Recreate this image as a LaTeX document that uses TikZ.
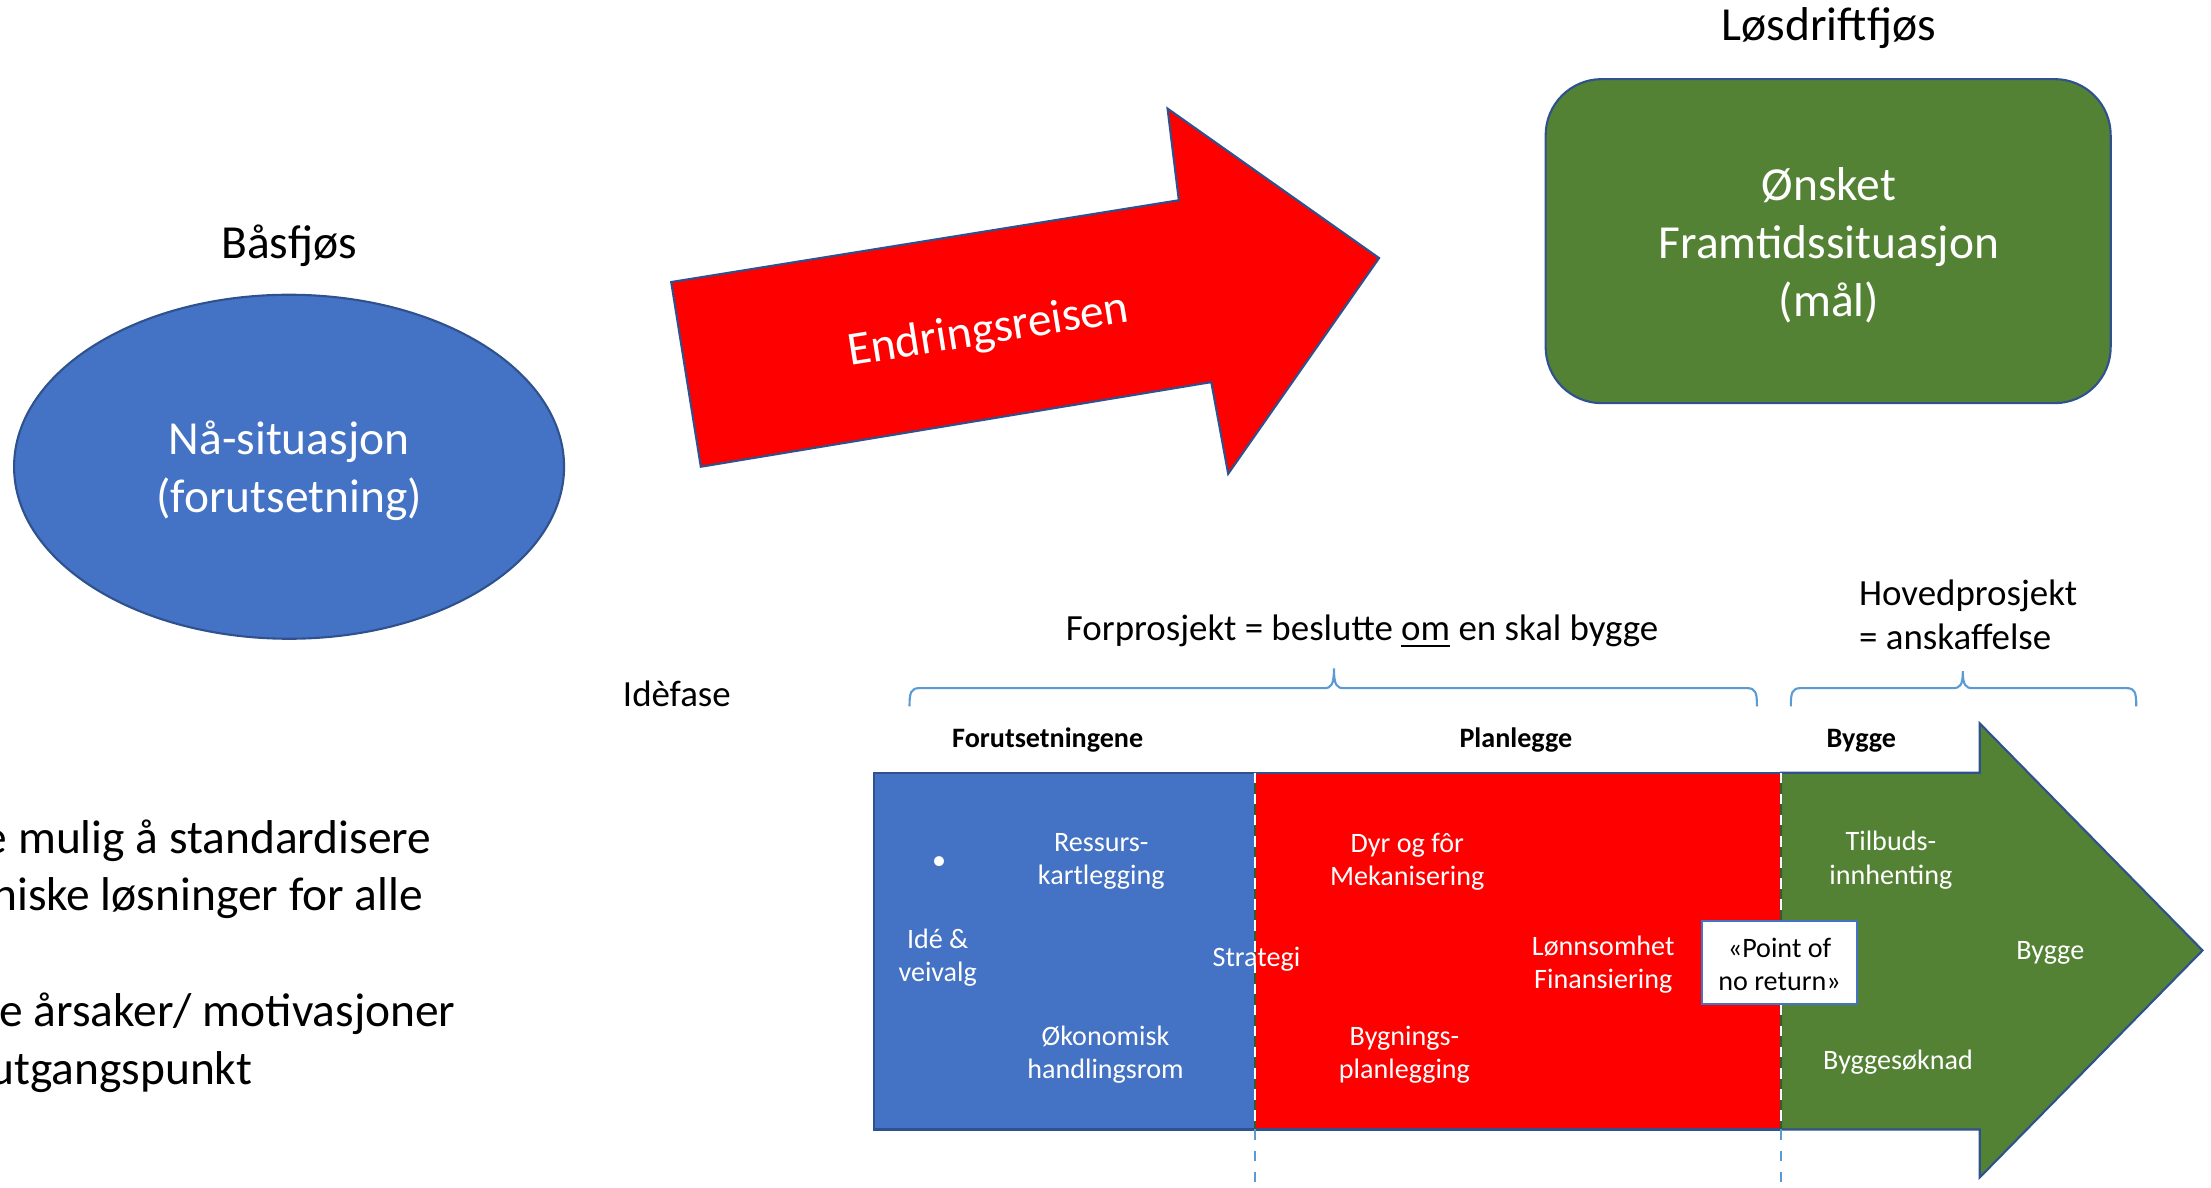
\documentclass[tikz,border=0pt]{standalone}
\usepackage{fontspec}
\setmainfont{Carlito}
\usetikzlibrary{shapes.geometric,positioning}
\definecolor{msblue}{HTML}{4472C4}
\definecolor{msedge}{HTML}{2F528F}
\definecolor{msred}{HTML}{FF0000}
\definecolor{msgreen}{HTML}{548235}
\definecolor{bracecol}{HTML}{5B9BD5}
\tikzset{
  bigtxt/.style={align=center, inner sep=0pt, font=\fontsize{13.5}{16.5}\selectfont},
  midtxt/.style={align=center, inner sep=0pt, font=\fontsize{10.5}{12.5}\selectfont},
  phasehead/.style={inner sep=0pt, font=\fontsize{8}{9.5}\selectfont\bfseries},
  intxt/.style={align=center, inner sep=0pt, text=white, font=\fontsize{8}{9.5}\selectfont},
  situation/.style={ellipse, draw=msedge, fill=msblue, text=white, align=center, font=\fontsize{13.5}{16.5}\selectfont, minimum width=55mm, minimum height=34.4mm, line width=0.6pt},
  goal/.style={rectangle, rounded corners=5.6mm, draw=msedge, fill=msgreen, text=white, align=center, font=\fontsize{13.5}{16.5}\selectfont, minimum width=56.5mm, minimum height=32.4mm, line width=0.6pt},
  pnr/.style={rectangle, draw=msblue, fill=white, align=center, inner sep=0pt, font=\fontsize{8}{9.5}\selectfont, minimum width=15.5mm, minimum height=8.3mm, line width=0.6pt},
  shapeedge/.style={draw=msedge, line width=0.6pt},
  bracket/.style={draw=bracecol, line width=0.6pt},
  divider/.style={draw=bracecol, dashed, line width=0.6pt}
}
\begin{document}
\begin{tikzpicture}[x=0.141mm, y=-0.141mm]
\useasboundingbox (0,0) rectangle (1568,842);

\node[bigtxt] (basfjos) at (205,174) {Båsfjøs};
\node[situation] (naa) at (205,331) {};
\node[bigtxt, text=white] (naatxt) at (205,334) {Nå-situasjon\\(forutsetning)};

\draw[shapeedge, fill=msred] (476,200) -- (836,142) -- (828,77) -- (978,183) -- (871,336) -- (859,271) -- (497,331) -- cycle;
\node[bigtxt, text=white, rotate=9] (reise) at (701,235) {Endringsreisen};

\node[bigtxt] (losdrift) at (1297,20) {Løsdriftfjøs};
\node[goal] (maal) at (1296.5,171) {};
\node[bigtxt, text=white] (maaltxt) at (1297,174) {Ønsket\\Framtidssituasjon\\(mål)};

\node[bigtxt, anchor=west] (txta) at (-12,596) {e mulig å standardisere};
\node[bigtxt, anchor=west] (txtb) at (-6,637) {niske løsninger for alle};
\node[bigtxt, anchor=west] (txtc) at (-1,719) {e årsaker/ motivasjoner};
\node[bigtxt, anchor=west] (txtd) at (-8,760) {utgangspunkt};

\node[midtxt] (forprosjekt) at (966,448) {Forprosjekt = beslutte \underline{om} en skal bygge};
\node[midtxt, align=left, anchor=west] (hovedprosjekt) at (1318,436) {Hovedprosjekt\\= anskaffelse};
\node[midtxt] (idefase) at (480,492) {Idèfase};

\draw[bracket] (645,501) .. controls (645,491) and (646,488) .. (652,488) -- (939,488) .. controls (944,488) and (946,486) .. (946,474) .. controls (946,486) and (948,488) .. (953,488) -- (1239,488) .. controls (1245,488) and (1246,491) .. (1246,501);
\draw[bracket] (1270,501) .. controls (1270,491) and (1271,488) .. (1277,488) -- (1385,488) .. controls (1390,488) and (1392,486) .. (1392,476) .. controls (1392,486) and (1394,488) .. (1399,488) -- (1508,488) .. controls (1514,488) and (1515,491) .. (1515,501);

\node[phasehead] (forut) at (743,525) {Forutsetningene};
\node[phasehead] (planlegge) at (1075,525) {Planlegge};
\node[phasehead] (bygge) at (1320,525) {Bygge};

\fill[msblue] (620,548) rectangle (890,801);
\fill[msred] (890,548) rectangle (1263,801);
\draw[shapeedge, fill=msgreen] (1263,548) -- (1404,548) -- (1404,513) -- (1562,674) -- (1404,835) -- (1404,801) -- (1263,801) -- cycle;
\draw[shapeedge] (620,548) rectangle (890,801);
\draw[shapeedge] (890,548) -- (1263,548) (890,801) -- (1263,801);

\draw[msgreen!70!black, line width=0.6pt] (890,548) -- (890,801) (1263,548) -- (1263,801);
\draw[white, dashed, line width=0.6pt] (890,548) -- (890,801) (1263,548) -- (1263,801);
\draw[divider] (890,801) -- (890,842);
\draw[divider] (1263,801) -- (1263,842);

\node[intxt] (prikk) at (666,612) {•};
\node[intxt] (ressurs) at (781,611) {Ressurs-\\kartlegging};
\node[intxt] (ide) at (665,679) {Idé \&\\veivalg};
\node[intxt] (okonomi) at (784,748) {Økonomisk\\handlingsrom};
\node[intxt] (strategi) at (891,680) {Strategi};
\node[intxt] (dyr) at (998,611) {Dyr og fôr\\Mekanisering};
\node[intxt] (lonnsomhet) at (1137,684) {Lønnsomhet\\Finansiering};
\node[intxt] (bygningsplan) at (996,748) {Bygnings-\\planlegging};
\node[pnr] (pointnr) at (1262,682.5) {};
\node[align=center, inner sep=0pt, font=\fontsize{8}{9.5}\selectfont] (pointtxt) at (1262,684) {«Point of\\no return»};
\node[intxt] (tilbud) at (1341,610) {Tilbuds-\\innhenting};
\node[intxt] (byggeinn) at (1454,676) {Bygge};
\node[intxt] (soknad) at (1346,753) {Byggesøknad};
\end{tikzpicture}
\end{document}
